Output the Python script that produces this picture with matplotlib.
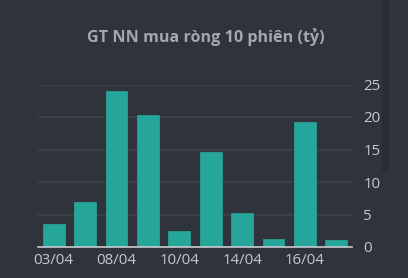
import matplotlib
matplotlib.use("Agg")
import matplotlib.pyplot as plt
from matplotlib.patches import FancyBboxPatch

# data
dates = ["03/04", "04/04", "08/04", "09/04", "10/04", "11/04", "14/04", "15/04", "16/04", "17/04"]
values = [3.6, 7.0, 24.0, 20.3, 2.5, 14.6, 5.2, 1.3, 19.2, 1.1]
y_ticks = [0, 5, 10, 15, 20, 25]

bg = "#2f343c"
bar_color = "#26a69a"
text_color = "#c5c9cf"
plt.rcParams["font.family"] = ["Open Sans", "DejaVu Sans"]

fig = plt.figure(figsize=(4.08, 2.78), dpi=100, facecolor=bg)
ax = fig.add_axes([38 / 408, 31 / 278, 314 / 408, 162.5 / 278])
ax.set_facecolor(bg)

x = range(len(values))
ax.bar(x, values, width=0.7, color=bar_color, edgecolor="#2a9d90", linewidth=0.6, zorder=3)

ax.set_xlim(-0.5, len(values) - 0.5)
ax.set_ylim(0, 25)

# x labels: every other date
ax.set_xticks(list(x)[::2])
ax.set_xticklabels(dates[::2], fontsize=10.8, color=text_color)
ax.tick_params(axis="x", length=0, pad=4)

ax.yaxis.tick_right()
ax.set_yticks(y_ticks)
ax.set_yticklabels([str(t) for t in y_ticks], fontsize=10.8, color=text_color)
ax.tick_params(axis="y", length=0, pad=8)

for t in y_ticks[1:]:
    ax.axhline(t, color="#3e434b", linewidth=1.2, zorder=1)

for s in ["top", "left", "right"]:
    ax.spines[s].set_visible(False)
ax.spines["bottom"].set_color("#c8ccd2")
ax.spines["bottom"].set_linewidth(1.2)
ax.spines["bottom"].set_zorder(4)

fig.text(206 / 408, 1 - 37 / 278, "GT NN mua ròng 10 phiên (tỷ)", ha="center", va="center",
         fontsize=11.6, fontweight="bold", color="#a3a8b0")

# scrollbar on the right edge
fig.patches.append(FancyBboxPatch((382 / 408, 106 / 278), 7 / 408, 180 / 278,
                                  boxstyle="round,pad=0,rounding_size=0.01",
                                  transform=fig.transFigure, facecolor="#282c33",
                                  edgecolor="none", figure=fig))

fig.savefig("out.png", dpi=100, facecolor=bg)
